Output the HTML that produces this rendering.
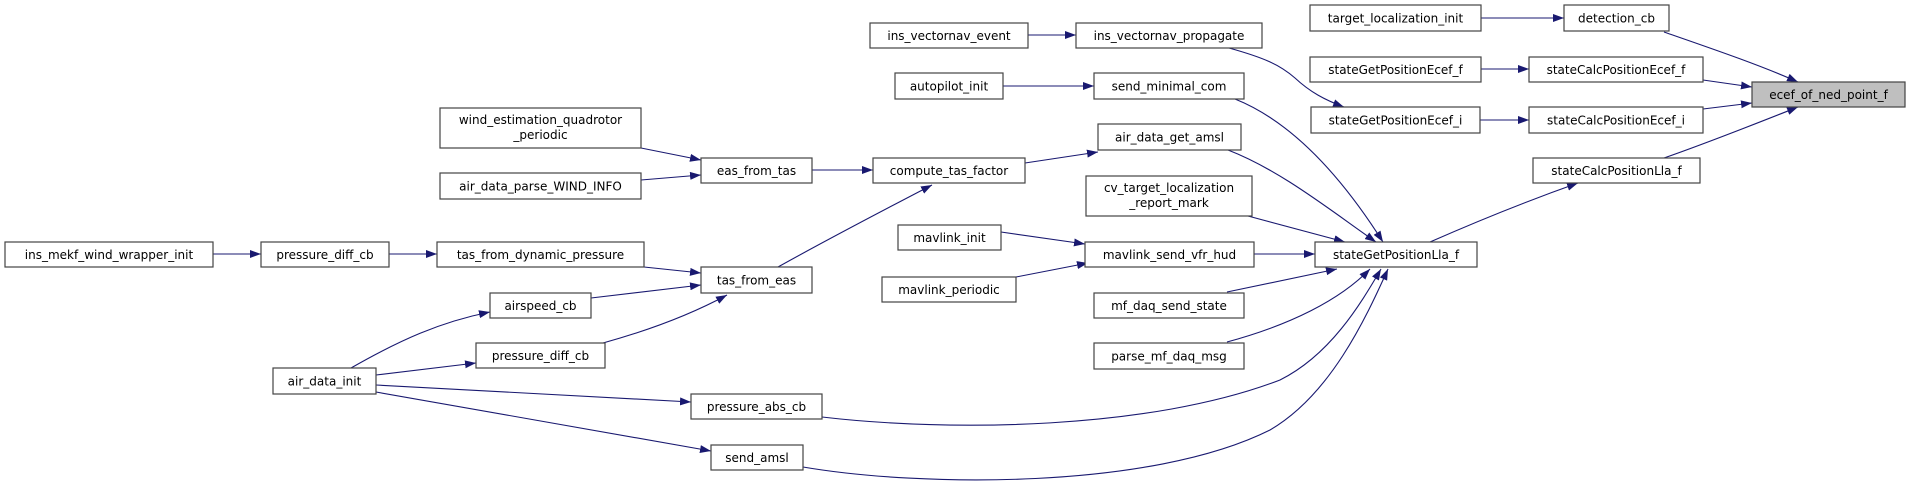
<!DOCTYPE html>
<html><head><meta charset="utf-8"><style>
html,body{margin:0;padding:0;background:#fff;}
svg{display:block;}
text{font-family:"DejaVu Sans","Liberation Sans",sans-serif;font-size:12px;fill:#000;text-anchor:middle;}
rect{fill:#fff;stroke:#444;stroke-width:1.2;}
path{fill:none;stroke:#191970;stroke-width:1.1;}
</style></head><body>
<svg width="1911" height="491" viewBox="0 0 1911 491" xmlns="http://www.w3.org/2000/svg">
<defs><marker id="a" markerWidth="11" markerHeight="8" refX="11" refY="4" orient="auto" markerUnits="userSpaceOnUse"><polygon points="0,0 11,4 0,8" fill="#191970"/></marker></defs>
<g marker-end="url(#a)">
<path d="M1481,18 L1564,18"/>
<path d="M1664,32 C1710,48 1760,65 1798,82"/>
<path d="M1481,69 L1529,69"/>
<path d="M1703,80 L1752,87"/>
<path d="M1480,120 L1529,120"/>
<path d="M1703,109 L1752,103"/>
<path d="M1664,158 C1710,142 1760,122 1798,107"/>
<path d="M1430,242 C1480,220 1530,200 1578,183"/>
<path d="M1028,35 L1076,35"/>
<path d="M1229,48 C1265,58 1280,65 1295,78 C1310,92 1325,100 1344,107"/>
<path d="M1003,86 L1094,86"/>
<path d="M1235,99 C1300,125 1350,190 1383,242"/>
<path d="M1228,150 C1280,170 1330,210 1376,242"/>
<path d="M1248,216 L1345,242"/>
<path d="M1025,163 L1098,152"/>
<path d="M1001,232 L1085,244"/>
<path d="M1016,277 L1088,263"/>
<path d="M1254,254 L1315,254"/>
<path d="M1227,292 L1337,269"/>
<path d="M1227,342 C1290,325 1340,300 1370,269"/>
<path d="M822,417 C950,432 1150,430 1280,380 C1330,355 1360,305 1381,269"/>
<path d="M803,467 C920,487 1150,490 1270,430 C1330,395 1365,320 1388,269"/>
<path d="M641,148 L701,160"/>
<path d="M641,180 L701,175"/>
<path d="M812,170 L873,170"/>
<path d="M778,267 C830,238 880,212 932,185"/>
<path d="M213,254 L261,254"/>
<path d="M389,254 L437,254"/>
<path d="M644,267 L701,273"/>
<path d="M591,298 L701,285"/>
<path d="M603,343 C650,330 690,315 727,295"/>
<path d="M351,368 C400,340 440,322 490,312"/>
<path d="M376,375 L476,363"/>
<path d="M376,385 L691,402"/>
<path d="M376,392 L711,451"/>
</g>
<g>
<rect x="1310" y="5" width="171" height="26"/><text x="1395.5" y="22.5">target_localization_init</text>
<rect x="1564" y="5" width="105" height="26"/><text x="1616.5" y="22.5">detection_cb</text>
<rect x="1752" y="82" width="153" height="25" style="fill:#bfbfbf"/><text x="1828.5" y="99">ecef_of_ned_point_f</text>
<rect x="1310" y="57" width="171" height="25"/><text x="1395.5" y="74">stateGetPositionEcef_f</text>
<rect x="1529" y="57" width="174" height="25"/><text x="1616" y="74">stateCalcPositionEcef_f</text>
<rect x="1311" y="107" width="169" height="26"/><text x="1395.5" y="124.5">stateGetPositionEcef_i</text>
<rect x="1529" y="107" width="174" height="26"/><text x="1616" y="124.5">stateCalcPositionEcef_i</text>
<rect x="1533" y="158" width="167" height="25"/><text x="1616.5" y="175">stateCalcPositionLla_f</text>
<rect x="1315" y="242" width="162" height="25"/><text x="1396" y="259">stateGetPositionLla_f</text>
<rect x="870" y="23" width="158" height="25"/><text x="949" y="40">ins_vectornav_event</text>
<rect x="1076" y="23" width="186" height="25"/><text x="1169" y="40">ins_vectornav_propagate</text>
<rect x="895" y="73" width="108" height="26"/><text x="949" y="90.5">autopilot_init</text>
<rect x="1094" y="73" width="150" height="26"/><text x="1169" y="90.5">send_minimal_com</text>
<rect x="440" y="108" width="201" height="40"/><text x="540.5" y="124">wind_estimation_quadrotor</text><text x="540.5" y="139">_periodic</text>
<rect x="440" y="173" width="201" height="26"/><text x="540.5" y="190.5">air_data_parse_WIND_INFO</text>
<rect x="701" y="158" width="111" height="25"/><text x="756.5" y="175">eas_from_tas</text>
<rect x="873" y="158" width="152" height="25"/><text x="949" y="175">compute_tas_factor</text>
<rect x="1098" y="124" width="143" height="26"/><text x="1169.5" y="141.5">air_data_get_amsl</text>
<rect x="1086" y="176" width="166" height="40"/><text x="1169" y="192">cv_target_localization</text><text x="1169" y="207">_report_mark</text>
<rect x="898" y="225" width="103" height="25"/><text x="949.5" y="242">mavlink_init</text>
<rect x="1085" y="242" width="169" height="25"/><text x="1169.5" y="259">mavlink_send_vfr_hud</text>
<rect x="882" y="277" width="134" height="25"/><text x="949" y="294">mavlink_periodic</text>
<rect x="1094" y="293" width="150" height="25"/><text x="1169" y="310">mf_daq_send_state</text>
<rect x="1094" y="343" width="150" height="26"/><text x="1169" y="360.5">parse_mf_daq_msg</text>
<rect x="5" y="242" width="208" height="25"/><text x="109" y="259">ins_mekf_wind_wrapper_init</text>
<rect x="261" y="242" width="128" height="25"/><text x="325" y="259">pressure_diff_cb</text>
<rect x="437" y="242" width="207" height="25"/><text x="540.5" y="259">tas_from_dynamic_pressure</text>
<rect x="701" y="267" width="111" height="26"/><text x="756.5" y="284.5">tas_from_eas</text>
<rect x="490" y="293" width="101" height="25"/><text x="540.5" y="310">airspeed_cb</text>
<rect x="476" y="343" width="129" height="25"/><text x="540.5" y="360">pressure_diff_cb</text>
<rect x="273" y="368" width="103" height="26"/><text x="324.5" y="385.5">air_data_init</text>
<rect x="691" y="394" width="131" height="25"/><text x="756.5" y="411">pressure_abs_cb</text>
<rect x="711" y="445" width="92" height="25"/><text x="757" y="462">send_amsl</text>
</g>
</svg>
</body></html>
